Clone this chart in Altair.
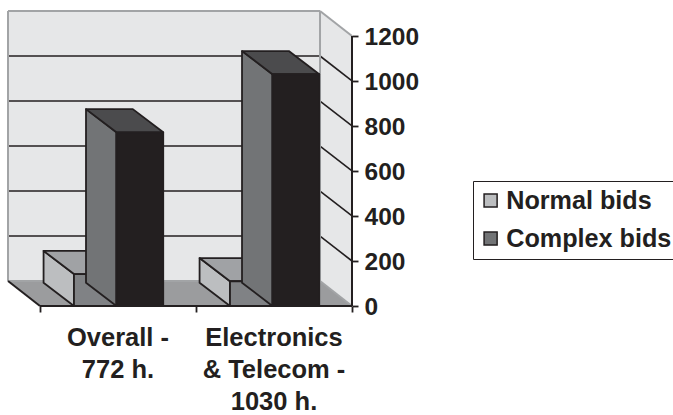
import altair as alt
import pandas as pd

# Chart values
categories = ["Overall -\n772 h.", "Electronics\n& Telecom -\n1030 h."]
series = ["Normal bids", "Complex bids"]
normal_hours = [142, 110]
complex_hours = [772, 1030]
y_ticks = [0, 200, 400, 600, 800, 1000, 1200]

# Oblique projection of the box, in axis units
WALL_DX, WALL_DY = -0.205, 111
BAR_DX, BAR_DY = -0.195, 103
NORMAL_SPAN = (0.218, 0.49)
COMPLEX_SPAN = (0.49, 0.79)

INK = "#231f20"
WALL = "#e6e7e8"
EDGE = "#a2a4a6"
FLOOR = "#9b9c9e"
FONT = "Liberation Sans"

X = alt.Scale(domain=[WALL_DX, 2], nice=False, zero=False)
Y = alt.Scale(domain=[0, 1200 + WALL_DY], nice=False, zero=False)
X_AXIS = alt.Axis(values=[0, 1, 2], labels=False, domain=False, grid=False, tickColor=INK,
                  tickWidth=1.8, tickSize=6)
Y_AXIS = alt.Axis(orient="right", values=y_ticks, format="d", domain=False, grid=False, tickColor=INK,
                  tickWidth=1.8, tickSize=6, labelFont=FONT, labelFontWeight="bold",
                  labelFontSize=24.5, labelColor=INK, labelPadding=6, labelOffset=1.5)


def xq():
    return alt.X("x:Q", scale=X, axis=X_AXIS, title=None)


def yq():
    return alt.Y("y:Q", scale=Y, axis=Y_AXIS, title=None)


def bar_tables(values, span, name):
    front, side, top = [], [], []
    for i, v in enumerate(values):
        x0, x1 = i + span[0], i + span[1]
        front.append(dict(x=x0, x2=x1, y=0, y2=v))
        side += [
            dict(bar=i, series=name, x=x0, y=v, y2=0),
            dict(bar=i, series=name, x=x0 + BAR_DX, y=v + BAR_DY, y2=BAR_DY),
        ]
        top += [
            dict(bar=i, y=v, x=x0, x2=x1),
            dict(bar=i, y=v + BAR_DY, x=x0 + BAR_DX, x2=x1 + BAR_DX),
        ]
    return pd.DataFrame(front), pd.DataFrame(side), pd.DataFrame(top)


def bar_layers(values, span, name, front_color, top_color):
    front, side, top = bar_tables(values, span, name)
    color = alt.Color(
        "series:N",
        scale=alt.Scale(domain=series, range=["#bcbec0", "#727476"]),
        legend=alt.Legend(
            title=None,
            orient="none",
            legendX=465,
            legendY=170,
            padding=7,
            strokeColor=INK,
            fillColor="white",
            symbolType="square",
            symbolSize=170,
            symbolOffset=-2,
            symbolStrokeColor=INK,
            symbolStrokeWidth=1.5,
            labelFont=FONT,
            labelFontWeight="bold",
            labelFontSize=25.2,
            labelColor=INK,
            labelOffset=3,
            labelLimit=400,
            rowPadding=12,
        ),
    )
    stroke = dict(stroke=INK, strokeWidth=1.8, strokeJoin="round")
    return [
        alt.Chart(side).mark_area(**stroke).encode(xq(), yq(), alt.Y2("y2:Q"), color=color, detail="bar:N"),
        alt.Chart(top).mark_area(orient="horizontal", fill=top_color, **stroke).encode(
            xq(), alt.X2("x2:Q"), yq(), detail="bar:N"
        ),
        alt.Chart(front).mark_rect(fill=front_color, **stroke).encode(xq(), alt.X2("x2:Q"), yq(), alt.Y2("y2:Q")),
    ]


# Back wall, side wall and floor of the box
right_back = 2 + WALL_DX
back_wall = pd.DataFrame([dict(x=WALL_DX, x2=right_back, y=WALL_DY, y2=1200 + WALL_DY)])
side_wall = pd.DataFrame([
    dict(x=right_back, y=WALL_DY, y2=1200 + WALL_DY),
    dict(x=2, y=0, y2=1200),
])
floor = pd.DataFrame([
    dict(y=0, x=0, x2=2),
    dict(y=WALL_DY, x=WALL_DX, x2=right_back),
])

grid_values = y_ticks[1:-1]
grid_back = pd.DataFrame([dict(x=WALL_DX, x2=right_back, y=v + WALL_DY, y2=v + WALL_DY) for v in grid_values])
grid_side = pd.DataFrame([dict(x=right_back, x2=2, y=v + WALL_DY, y2=v) for v in grid_values])
grey_edges = pd.DataFrame([
    dict(x=WALL_DX, x2=right_back, y=1200 + WALL_DY, y2=1200 + WALL_DY),
    dict(x=WALL_DX, x2=WALL_DX, y=WALL_DY, y2=1200 + WALL_DY),
    dict(x=right_back, x2=right_back, y=WALL_DY, y2=1200 + WALL_DY),
    dict(x=right_back, x2=2, y=1200 + WALL_DY, y2=1200),
    dict(x=right_back, x2=2, y=WALL_DY, y2=0),
    dict(x=WALL_DX, x2=right_back, y=WALL_DY, y2=WALL_DY),
])
black_edges = pd.DataFrame([
    dict(x=0, x2=2, y=0, y2=0),
    dict(x=2, x2=2, y=0, y2=1200),
    dict(x=WALL_DX, x2=0, y=WALL_DY, y2=0),
])


def rules(df, color, width):
    return alt.Chart(df).mark_rule(color=color, strokeWidth=width).encode(
        xq(), alt.X2("x2:Q"), yq(), alt.Y2("y2:Q")
    )


category_labels = pd.DataFrame([dict(x=i + 0.5, label=c) for i, c in enumerate(categories)])
cat_text = alt.Chart(category_labels).mark_text(
    font=FONT, fontWeight="bold", fontSize=25.5, color=INK, lineBreak="\n",
    lineHeight=32, baseline="top", align="center", dy=20,
).encode(xq(), y=alt.datum(0, scale=Y, axis=Y_AXIS), text="label:N")

layers = [
    alt.Chart(back_wall).mark_rect(fill=WALL).encode(xq(), alt.X2("x2:Q"), yq(), alt.Y2("y2:Q")),
    alt.Chart(side_wall).mark_area(fill=WALL).encode(xq(), yq(), alt.Y2("y2:Q")),
    alt.Chart(floor).mark_area(orient="horizontal", fill=FLOOR).encode(xq(), alt.X2("x2:Q"), yq()),
    rules(grid_back, INK, 1.6),
    rules(grid_side, INK, 1.6),
    rules(grey_edges, EDGE, 2),
    rules(black_edges, INK, 2),
]
layers += bar_layers(normal_hours, NORMAL_SPAN, series[0], "#808285", "#a0a2a5")
layers += bar_layers(complex_hours, COMPLEX_SPAN, series[1], INK, "#4b4b4d")
layers.append(cat_text)

chart = (
    alt.layer(*layers)
    .resolve_scale(color="shared")
    .properties(
        width=344,
        height=295,
        autosize=alt.AutoSizeParams(type="none"),
        padding={"left": 8, "top": 11, "right": 321, "bottom": 109},
        background="white",
    )
    .configure_view(stroke=None)
)

chart.save("out.html", embed_options={"renderer": "svg", "actions": False})
